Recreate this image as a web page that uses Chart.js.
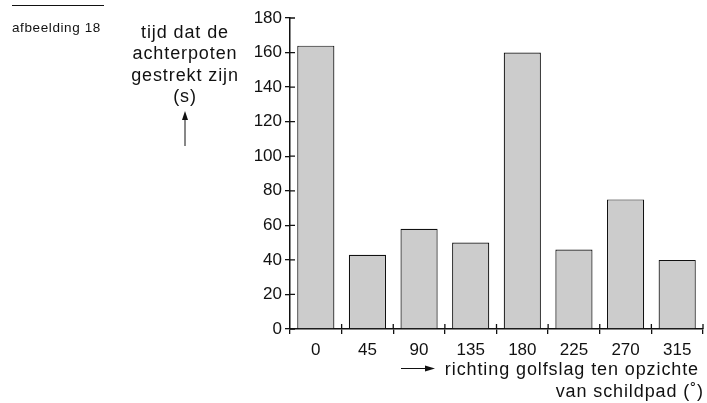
<!DOCTYPE html>
<html>
<head>
<meta charset="utf-8">
<script src="https://cdn.jsdelivr.net/npm/chart.js@4"></script>
<style>
  html, body { margin: 0; padding: 0; background: #fff; }
  #wrap { width: 707px; height: 403px; position: relative; }
</style>
</head>
<body>
<div id="wrap"><canvas id="chart"></canvas></div>
<script>
// data
var richting = ["0", "45", "90", "135", "180", "225", "270", "315"];
var tijdGestrekt = [164, 43, 58, 50, 160, 46, 75, 40];
var yTitel = ["tijd dat de", "achterpoten", "gestrekt zijn", "(s)"];
var xTitel = ["richting golfslag ten opzichte", "van schildpad (˚)"];
var figuurLabel = "afbeelding 18";

var FONT = "'Liberation Sans', Arial, sans-serif";
var INK = "#111";

// draws the inner half of the tick marks so they cross the axes
var crossTicks = {
    id: "crossTicks",
    afterDraw: function (chart) {
        var ctx = chart.ctx, x = chart.scales.x, y = chart.scales.y;
        ctx.save();
        ctx.strokeStyle = INK;
        ctx.lineWidth = 1.3;
        ctx.beginPath();
        y.ticks.forEach(function (t, i) {
            var py = y.getPixelForTick(i);
            ctx.moveTo(x.left, py);
            ctx.lineTo(x.left + 5, py);
        });
        for (var i = 1; i <= richting.length; i++) {
            var px = x.getPixelForValue(i - 0.5);
            ctx.moveTo(px, y.bottom);
            ctx.lineTo(px, y.bottom - 5);
        }
        ctx.stroke();
        ctx.restore();
    }
};

// titles, arrows and figure label
var annotations = {
    id: "annotations",
    afterDraw: function (chart) {
        var ctx = chart.ctx;
        ctx.save();
        ctx.fillStyle = INK;
        ctx.strokeStyle = INK;

        // figure label with rule above
        ctx.lineWidth = 1;
        ctx.beginPath();
        ctx.moveTo(12, 5.5);
        ctx.lineTo(104, 5.5);
        ctx.stroke();
        ctx.font = "13.5px " + FONT;
        ctx.letterSpacing = "0.6px";
        ctx.textAlign = "left";
        ctx.textBaseline = "middle";
        ctx.fillText(figuurLabel, 12, 28);

        // y title
        ctx.font = "18px " + FONT;
        ctx.letterSpacing = "0.9px";
        ctx.textAlign = "center";
        yTitel.forEach(function (l, i) {
            ctx.fillText(l, 185, 33 + i * 21.5);
        });
        ctx.beginPath();
        ctx.moveTo(185, 146);
        ctx.lineTo(185, 117);
        ctx.stroke();
        ctx.beginPath();
        ctx.moveTo(185, 111);
        ctx.lineTo(182, 120);
        ctx.lineTo(188, 120);
        ctx.closePath();
        ctx.fill();

        // x title
        ctx.textAlign = "right";
        ctx.fillText(xTitel[0], 699, 370);
        ctx.fillText(xTitel[1], 704, 392);
        ctx.beginPath();
        ctx.moveTo(401, 368.5);
        ctx.lineTo(428, 368.5);
        ctx.stroke();
        ctx.beginPath();
        ctx.moveTo(435, 368.5);
        ctx.lineTo(425, 365.5);
        ctx.lineTo(425, 371.5);
        ctx.closePath();
        ctx.fill();
        ctx.restore();
    }
};

new Chart(document.getElementById("chart"), {
    type: "bar",
    data: {
        labels: richting,
        datasets: [{
            data: tijdGestrekt,
            backgroundColor: "#cccccc",
            borderColor: INK,
            borderWidth: 1.2,
            borderSkipped: "bottom",
            categoryPercentage: 1.0,
            barPercentage: 0.72
        }]
    },
    options: {
        responsive: true,
        maintainAspectRatio: false,
        animation: false,
        layout: { padding: { left: 0, right: 4, top: 18, bottom: 0 } },
        plugins: {
            legend: { display: false },
            tooltip: { enabled: false }
        },
        scales: {
            x: {
                grid: {
                    offset: true,
                    drawOnChartArea: false,
                    tickLength: 5,
                    color: INK,
                    lineWidth: 1.3
                },
                border: { display: true, color: INK, width: 1.5 },
                ticks: {
                    color: INK,
                    font: { family: FONT, size: 17 },
                    padding: 6,
                    maxRotation: 0
                },
                afterFit: function (s) { s.height = 74; }
            },
            y: {
                min: 0,
                max: 180,
                ticks: {
                    stepSize: 20,
                    color: INK,
                    font: { family: FONT, size: 17 },
                    padding: 3
                },
                grid: {
                    drawOnChartArea: false,
                    tickLength: 5,
                    color: INK,
                    lineWidth: 1.3
                },
                border: { display: true, color: INK, width: 1.5 },
                afterFit: function (s) { s.width = 290; }
            }
        }
    },
    plugins: [crossTicks, annotations]
});
</script>
</body>
</html>
